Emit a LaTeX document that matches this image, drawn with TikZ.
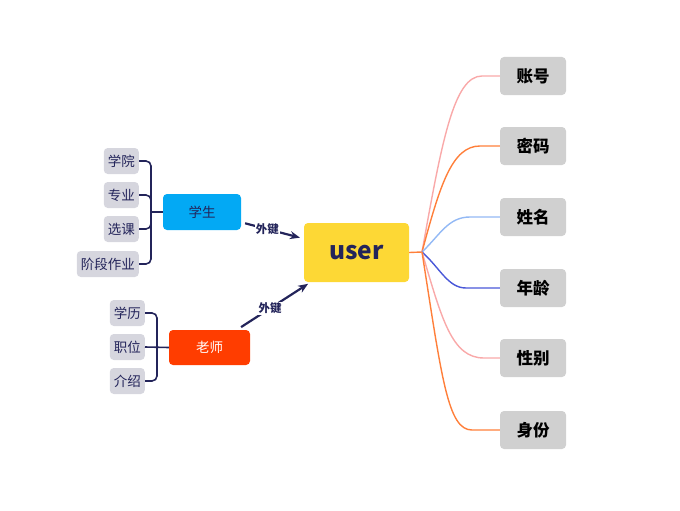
\documentclass[tikz,border=0pt]{standalone}
\usepackage{fontspec}
\setmainfont{Noto Sans CJK SC}
\usepackage{xcolor}
\usetikzlibrary{positioning,arrows.meta}

\definecolor{userYellow}{HTML}{FDD835}
\definecolor{stuBlue}{HTML}{03A9F4}
\definecolor{teaRed}{HTML}{FF3D00}
\definecolor{attrGray}{HTML}{D0D0D0}
\definecolor{subGray}{HTML}{D6D6DE}
\definecolor{navy}{HTML}{23245A}
\definecolor{lnPink}{HTML}{F9A9A9}
\definecolor{lnOrange}{HTML}{FF7F3A}
\definecolor{lnSky}{HTML}{93B9F5}
\definecolor{lnBlue}{HTML}{4A58D8}

\begin{document}
\begin{tikzpicture}[x=1pt,y=-1pt,
  attr/.style={fill=attrGray, rounded corners=4pt, minimum width=66pt, minimum height=38pt, font=\fontsize{16.5}{16.5}\selectfont\bfseries},
  sub/.style={fill=subGray, text=navy, rounded corners=4pt, minimum height=26pt, inner xsep=4pt, anchor=east, font=\fontsize{13.5}{13.5}\selectfont},
  brk/.style={navy, line width=1.6pt, rounded corners=5pt},
  fk/.style={navy, line width=2.2pt, -{Stealth[length=10pt,width=8pt]}},
  fklabel/.style={fill=white, inner sep=1pt, text=navy, font=\fontsize{11.5}{11.5}\selectfont\bfseries},
  link/.style={line width=1.4pt}]
  \useasboundingbox (0,0) rectangle (680,511);

  % centre
  \node[fill=userYellow, rounded corners=4pt, minimum width=105pt, minimum height=59pt, text=navy, font=\fontsize{24.5}{24.5}\selectfont\bfseries] (user) at (356.5,252.5) {user};
  \coordinate (hub) at (422,252);
  \draw[lnOrange, link] (user.east) -- (hub);

  % fields
  \node[attr] (zhanghao) at (533,76) {账号};
  \node[attr] (mima) at (533,146) {密码};
  \node[attr] (xingming) at (533,217) {姓名};
  \node[attr] (nianling) at (533,288) {年龄};
  \node[attr] (xingbie) at (533,358) {性别};
  \node[attr] (shenfen) at (533,430) {身份};

  \draw[lnPink, link] (hub) .. controls (442,140) and (454,76) .. (482,76) -- (zhanghao.west);
  \draw[lnOrange, link] (hub) .. controls (440,185) and (452,146) .. (480,146) -- (mima.west);
  \draw[lnSky, link] (hub) .. controls (440,235) and (448,217) .. (470,217) -- (xingming.west);
  \draw[lnBlue, link] (hub) .. controls (440,268) and (448,288) .. (466,288) -- (nianling.west);
  \draw[lnPink, link] (hub) .. controls (442,320) and (452,358) .. (484,358) -- (xingbie.west);
  \draw[lnOrange, link] (hub) .. controls (442,380) and (448,430) .. (472,430) -- (shenfen.west);

  % student
  \node[fill=stuBlue, rounded corners=4pt, minimum width=78pt, minimum height=36pt, text=navy, font=\fontsize{13.5}{13.5}\selectfont] (stu) at (202,212) {学生};
  \node[sub] (xueyuan) at (139,161) {学院};
  \node[sub] (zhuanye) at (139,195) {专业};
  \node[sub] (xuanke) at (139,229) {选课};
  \node[sub] (zuoye) at (139,264) {阶段作业};
  \coordinate (sbus) at (151,212);
  \draw[brk] (xueyuan.east) -| (sbus) |- (zuoye.east);
  \draw[brk] (zhuanye.east) -| (sbus) |- (xuanke.east);
  \draw[brk] (sbus) -- (stu.west);

  % teacher
  \node[fill=teaRed, rounded corners=4pt, minimum width=81pt, minimum height=35pt, text=white, font=\fontsize{13.5}{13.5}\selectfont] (tea) at (209.5,347.5) {老师};
  \node[sub] (xueli) at (145,313) {学历};
  \node[sub] (zhiwei) at (145,347) {职位};
  \node[sub] (jieshao) at (145,381) {介绍};
  \coordinate (tbus) at (157,347);
  \draw[brk] (xueli.east) -| (tbus) |- (jieshao.east);
  \draw[brk] (zhiwei.east) -- (tea.west);

  % foreign keys
  \draw[fk, shorten <=4pt, shorten >=4pt] (stu) -- node[fklabel, pos=0.42] (fk1) {外键} (user);
  \draw[fk, shorten <=5pt, shorten >=3pt] (tea) -- node[fklabel, pos=0.45] (fk2) {外键} (user);
\end{tikzpicture}
\end{document}
